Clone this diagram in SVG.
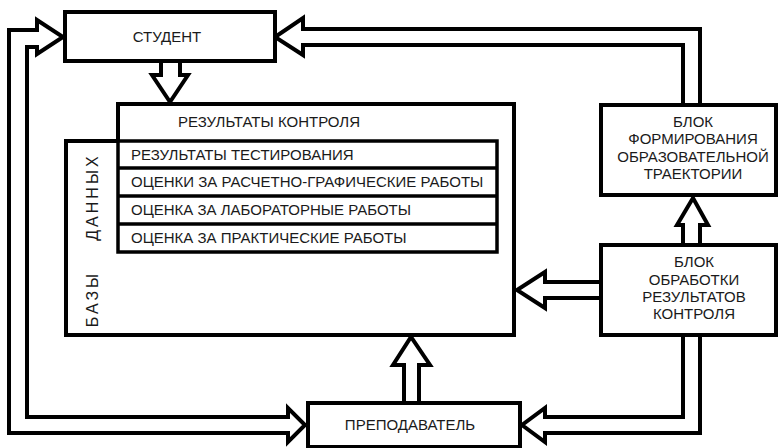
<svg xmlns="http://www.w3.org/2000/svg" width="778" height="448" viewBox="0 0 778 448">
<style>
.box{fill:#fff;stroke:#000;stroke-width:4}
.row{fill:none;stroke:#000;stroke-width:3.5}
.con{fill:none;stroke:#000;stroke-width:4;stroke-linejoin:miter}
text{font-family:"Liberation Sans",Arial,sans-serif;font-size:15px;fill:#1a1a1a}
.c{text-anchor:middle}
.v{font-size:16px;letter-spacing:3px;text-anchor:middle}
</style>
<rect width="778" height="448" fill="#fff"/>
<g id="connectors">
<polygon class="con" points="37,47 27,47 27,417 288,417 288,408 305,425 288,442 288,433 9,433 9,30 37,30 37,20 63,37 37,54"/>
<polyline class="con" points="683,105 683,45 303,45 303,55 275,37 303,18 303,29 700,29 700,105"/>
<polyline class="con" points="683,335 683,417 545,417 545,408 522,425 545,442 545,433 700,433 700,335"/>
<polyline class="con" points="161,61 161,75 152,75 170,102 188,75 180,75 180,61"/>
<polyline class="con" points="404,403 404,365 393,365 411,337 430,365 419,365 419,403"/>
<polyline class="con" points="600,282 545,282 545,272 517,290 545,308 545,298 600,298"/>
<polyline class="con" points="683,245 683,225 677,225 693,198 708,225 700,225 700,245"/>
</g>
<g id="student">
<rect class="box" x="65" y="12" width="210" height="49"/>
<text class="c" x="167" y="42">СТУДЕНТ</text>
</g>
<g id="results">
<path class="con" d="M118,141 V104 H514 V335 H66 V141 H118"/>
<text x="178" y="127">РЕЗУЛЬТАТЫ КОНТРОЛЯ</text>
</g>
<g id="database-label">
<text class="v" transform="translate(98,197) rotate(-90)">ДАННЫХ</text>
<text class="v" transform="translate(98,299) rotate(-90)">БАЗЫ</text>
</g>
<g id="rows">
<rect class="row" x="118" y="141" width="379" height="111"/>
<line class="row" x1="118" y1="168" x2="497" y2="168"/>
<line class="row" x1="118" y1="196" x2="497" y2="196"/>
<line class="row" x1="118" y1="224" x2="497" y2="224"/>
<text x="131" y="160">РЕЗУЛЬТАТЫ ТЕСТИРОВАНИЯ</text>
<text x="131" y="187">ОЦЕНКИ ЗА РАСЧЕТНО-ГРАФИЧЕСКИЕ РАБОТЫ</text>
<text x="131" y="215">ОЦЕНКА ЗА ЛАБОРАТОРНЫЕ РАБОТЫ</text>
<text x="131" y="243">ОЦЕНКА ЗА ПРАКТИЧЕСКИЕ РАБОТЫ</text>
</g>
<g id="trajectory">
<rect class="box" x="601" y="105" width="175" height="90"/>
<text class="c" x="693" y="127">БЛОК</text>
<text class="c" x="693" y="144">ФОРМИРОВАНИЯ</text>
<text class="c" x="693" y="162">ОБРАЗОВАТЕЛЬНОЙ</text>
<text class="c" x="693" y="179">ТРАЕКТОРИИ</text>
</g>
<g id="processing">
<rect class="box" x="601" y="245" width="175" height="90"/>
<text class="c" x="694" y="267">БЛОК</text>
<text class="c" x="694" y="285">ОБРАБОТКИ</text>
<text class="c" x="694" y="302">РЕЗУЛЬТАТОВ</text>
<text class="c" x="694" y="319">КОНТРОЛЯ</text>
</g>
<g id="teacher">
<rect class="box" x="308" y="403" width="212" height="44"/>
<text class="c" x="410" y="430">ПРЕПОДАВАТЕЛЬ</text>
</g>
</svg>
